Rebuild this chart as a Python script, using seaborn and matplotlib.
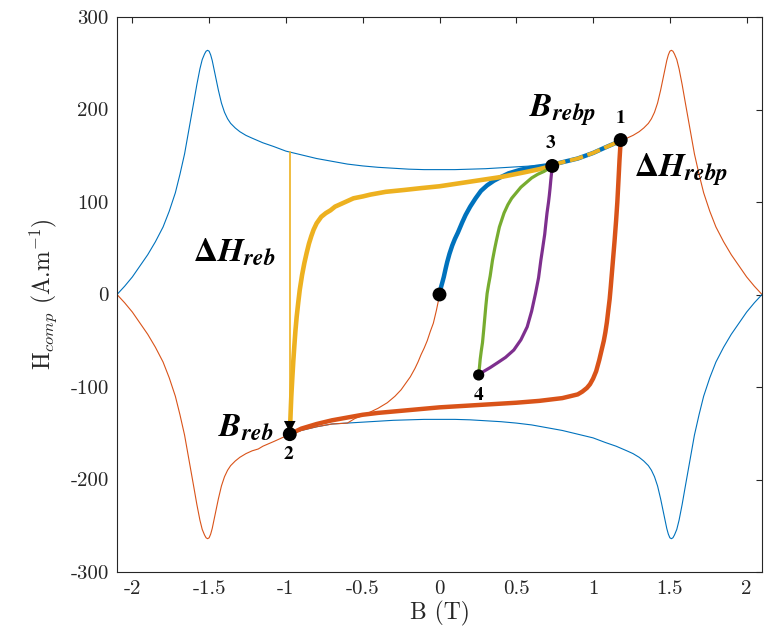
import numpy as np
import matplotlib
matplotlib.use("Agg")
import matplotlib.pyplot as plt
import seaborn as sns

# ---- major hysteresis loop -------------------------------------------------
# descending (upper) branch, B in T, H in A/m
upper_b = [-2.10, -2.05, -2.00, -1.95, -1.90, -1.85, -1.80, -1.76, -1.72, -1.69,
           -1.66, -1.63, -1.60, -1.58, -1.56, -1.545, -1.53, -1.52, -1.51, -1.50,
           -1.49, -1.48, -1.47, -1.455, -1.44, -1.42, -1.40, -1.38, -1.36, -1.33,
           -1.30, -1.26, -1.22, -1.15, -1.08, -1.00, -0.975, -0.90, -0.80, -0.70,
           -0.60, -0.50, -0.40, -0.30, -0.20, -0.10, 0.00, 0.10, 0.20, 0.30,
           0.40, 0.50, 0.60, 0.70, 0.74, 0.80, 0.90, 1.00, 1.08, 1.15,
           1.18, 1.22, 1.26, 1.30, 1.33, 1.36, 1.38, 1.40, 1.42, 1.44,
           1.455, 1.47, 1.48, 1.49, 1.50, 1.51, 1.52, 1.53, 1.545, 1.56,
           1.58, 1.60, 1.63, 1.66, 1.69, 1.72, 1.76, 1.80, 1.85, 1.90,
           1.95, 2.00, 2.05, 2.10]
upper_h = [0, 9, 19, 31, 43, 57, 73, 90, 110, 130,
           152, 180, 208, 227, 244, 254, 260, 263, 264, 263,
           259, 253, 245, 233, 221, 207, 197, 190, 185, 180,
           176, 172, 169, 164, 160, 155, 154, 151, 147, 144,
           141, 139, 137.5, 136.5, 135.5, 135, 135, 135, 135.5, 136,
           137, 138, 139, 140, 140.5, 143, 147, 153, 159, 164,
           167, 169, 172, 176, 180, 185, 190, 197, 207, 221,
           233, 245, 253, 259, 263, 264, 263, 260, 254, 244,
           227, 208, 180, 152, 130, 110, 90, 73, 57, 43,
           31, 19, 9, 0]

# ascending (lower) branch
lower_b = [-2.10, -2.05, -2.00, -1.95, -1.90, -1.85, -1.80, -1.76, -1.72, -1.69,
           -1.66, -1.63, -1.60, -1.58, -1.56, -1.545, -1.53, -1.52, -1.51, -1.50,
           -1.49, -1.48, -1.47, -1.455, -1.44, -1.42, -1.40, -1.38, -1.36, -1.33,
           -1.30, -1.26, -1.22, -1.18, -1.15, -1.08, -1.00, -0.975, -0.90, -0.80,
           -0.70, -0.60, -0.50, -0.40, -0.30, -0.20, -0.10, 0.00, 0.10, 0.20,
           0.30, 0.40, 0.50, 0.60, 0.70, 0.80, 0.90, 1.00, 1.08, 1.15,
           1.22, 1.26, 1.30, 1.33, 1.36, 1.38, 1.40, 1.42, 1.44, 1.455,
           1.47, 1.48, 1.49, 1.50, 1.51, 1.52, 1.53, 1.545, 1.56, 1.58,
           1.60, 1.63, 1.66, 1.69, 1.72, 1.76, 1.80, 1.85, 1.90, 1.95,
           2.00, 2.05, 2.10]
lower_h = [0, -9, -19, -31, -43, -57, -73, -90, -110, -130,
           -152, -180, -208, -227, -244, -254, -260, -263, -264, -263,
           -259, -253, -245, -233, -221, -207, -197, -190, -185, -180,
           -176, -172, -169, -167, -164, -159, -153, -151, -147, -143,
           -140, -139, -138, -137, -136, -135.5, -135, -135, -135, -135.5,
           -136.5, -137.5, -139, -141, -144, -147, -151, -155, -160, -164,
           -169, -172, -176, -180, -185, -190, -197, -207, -221, -233,
           -245, -253, -259, -263, -264, -263, -260, -254, -244, -227,
           -208, -180, -152, -130, -110, -90, -73, -57, -43, -31,
           -19, -9, 0]

# descending curve back to the demagnetised state
return_b = [-0.60, -0.55, -0.50, -0.45, -0.40, -0.34, -0.29, -0.25, -0.22, -0.19,
            -0.16, -0.14, -0.12, -0.10, -0.08, -0.06, -0.04, -0.03, -0.02, -0.01, 0.00]
return_h = [-139, -134, -131, -127, -123, -117, -110, -103, -96, -89,
            -80, -73, -65, -58, -50, -40, -31, -24, -17, -9, 0]

# ---- thick trajectories ----------------------------------------------------
# first magnetisation 0 -> point 1
first_b = [0.00, 0.005, 0.01, 0.02, 0.028, 0.04, 0.05, 0.065, 0.083, 0.10,
           0.12, 0.148, 0.17, 0.20, 0.235, 0.27, 0.31, 0.354, 0.40, 0.45,
           0.53, 0.63, 0.74, 0.80, 0.90, 1.00, 1.08, 1.15, 1.18]
first_h = [0, 4, 8, 14, 19, 28, 35, 44, 53, 60,
           67, 78, 86, 95, 104, 112, 118, 123, 127, 131,
           135, 138, 140.5, 143, 147, 153, 159, 164, 167]

# reversal 1 -> 2
rev12_b = [1.18, 1.172, 1.165, 1.158, 1.15, 1.14, 1.13, 1.12, 1.115, 1.108,
           1.10, 1.09, 1.08, 1.07, 1.06, 1.05, 1.04, 1.03, 1.02, 1.00,
           0.98, 0.96, 0.93, 0.90, 0.85, 0.80, 0.65, 0.50, 0.30, 0.20,
           0.00, -0.20, -0.40, -0.50, -0.60, -0.70, -0.80, -0.90, -0.975]
rev12_h = [167, 145, 122, 100, 80, 58, 38, 18, 8, -5,
           -16, -30, -41, -50, -57, -64, -71, -77, -83, -91,
           -97, -101, -105, -108, -110, -112, -115, -117, -119, -120,
           -122, -125, -128, -130, -133, -136, -140, -145, -151]

# reversal 2 -> 3 -> 1
rev23_b = [-0.975, -0.972, -0.968, -0.965, -0.958, -0.952, -0.945, -0.938, -0.93, -0.92,
           -0.91, -0.895, -0.88, -0.865, -0.85, -0.835, -0.82, -0.80, -0.77, -0.74,
           -0.71, -0.68, -0.64, -0.60, -0.56, -0.50, -0.45, -0.35, -0.23, -0.12,
           0.00, 0.10, 0.20, 0.30, 0.40, 0.55, 0.65, 0.734]
rev23_h = [-151, -139, -122, -110, -89, -72, -55, -39, -24, -9,
           5, 21, 34, 45, 55, 63, 70, 77, 84, 88,
           91, 95, 98, 101, 104, 106, 108, 111, 113, 115,
           117, 119.5, 122, 124.5, 127, 132, 135.5, 139]
rev31_b = [0.734, 0.80, 0.90, 1.00, 1.08, 1.15, 1.18]
rev31_h = [140, 143, 147, 153, 159, 164, 167]

# minor loop 3 -> 4 -> 3
rev34_b = [0.734, 0.73, 0.725, 0.72, 0.715, 0.71, 0.705, 0.70, 0.692, 0.685,
           0.677, 0.67, 0.66, 0.645, 0.625, 0.60, 0.571, 0.53, 0.484, 0.43,
           0.376, 0.33, 0.289, 0.255]
rev34_h = [139, 132, 124, 115, 107, 100, 94, 88, 76, 65,
           56, 48, 37, 18, 1, -18, -35, -49, -60, -68,
           -74, -79, -83, -87]
rev43_b = [0.255, 0.26, 0.265, 0.272, 0.28, 0.288, 0.295, 0.302, 0.31, 0.32,
           0.33, 0.345, 0.36, 0.37, 0.39, 0.42, 0.445, 0.47, 0.50, 0.53,
           0.565, 0.60, 0.64, 0.68, 0.71, 0.734]
rev43_h = [-87, -79, -70, -61, -52, -38, -25, -12, 1, 11,
           20, 37, 50, 58, 73, 88, 97, 104, 110, 116,
           121, 126, 130, 133, 136, 139]

# field step at B_reb
dh_reb_b = [-0.975, -0.975]
dh_reb_h = [154, -140]

# marked states
pts_b = [0.0, 1.18, 0.734, -0.975]
pts_h = [0, 167, 139, -151]
pt4_b = [0.255]
pt4_h = [-87]
arrow_b = [-0.975]
arrow_h = [-143]

x_ticks = [-2, -1.5, -1, -0.5, 0, 0.5, 1, 1.5, 2]
x_tick_labels = ["-2", "-1.5", "-1", "-0.5", "0", "0.5", "1", "1.5", "2"]
y_ticks = [-300, -200, -100, 0, 100, 200, 300]
y_tick_labels = ["-300", "-200", "-100", "0", "100", "200", "300"]

BLUE = "#0072BD"
ORANGE = "#D95319"
YELLOW = "#EDB120"
PURPLE = "#7E2F8E"
GREEN = "#77AC30"
AX_COL = "#262626"

sns.set_style("white")
plt.rcParams.update({
    "font.family": "serif",
    "font.serif": ["cmr10"],
    "mathtext.fontset": "cm",
    "axes.unicode_minus": False,
    "axes.formatter.use_mathtext": True,
})

fig = plt.figure(figsize=(7.78, 6.42), dpi=100)
ax = fig.add_axes([117 / 778, 70 / 642, 645 / 778, 555 / 642])

ub, uh = np.array(upper_b), np.array(upper_h)
lb, lh = np.array(lower_b), np.array(lower_h)


def curve(x, y, color, lw, z, **kw):
    sns.lineplot(x=x, y=y, sort=False, estimator=None, color=color,
                 linewidth=lw, ax=ax, zorder=z, legend=False, **kw)


thin = 0.8
m = ub <= 0.74
curve(ub[m], uh[m], BLUE, thin, 2)
m = ub >= 1.18
curve(ub[m], uh[m], ORANGE, thin, 2)
m = lb >= -0.975
curve(lb[m], lh[m], BLUE, thin, 2)
m = lb <= -0.60
curve(np.concatenate([lb[m], return_b]), np.concatenate([lh[m], return_h]),
      ORANGE, thin, 2)

curve(dh_reb_b, dh_reb_h, YELLOW, 1.2, 3)

curve(first_b, first_h, BLUE, 3.2, 4)
curve(rev12_b, rev12_h, ORANGE, 3.2, 4)
curve(rev23_b, rev23_h, YELLOW, 3.3, 5)
curve(rev31_b, rev31_h, YELLOW, 2.8, 5, dashes=(3.5, 1.2))
curve(rev34_b, rev34_h, PURPLE, 2.3, 6)
curve(rev43_b, rev43_h, GREEN, 2.3, 7)

sns.scatterplot(x=pts_b, y=pts_h, color="black", s=100, edgecolor="none",
                ax=ax, zorder=10, legend=False)
sns.scatterplot(x=pt4_b, y=pt4_h, color="black", s=65, edgecolor="none",
                ax=ax, zorder=10, legend=False)
sns.scatterplot(x=arrow_b, y=arrow_h, color="black", s=70, marker="v",
                edgecolor="none", ax=ax, zorder=11, legend=False)

# annotations
big = dict(fontsize=24, math_fontfamily="stix", color="black", zorder=12)
ax.text(0.80, 199, r"$\mathbfit{B}_{\mathbfit{rebp}}$", ha="center", va="center", **big)
ax.text(1.57, 135, r"$\mathbf{\Delta}\mathbfit{H}_{\mathbfit{rebp}}$", ha="center", va="center", **big)
ax.text(-1.34, 46, r"$\mathbf{\Delta}\mathbfit{H}_{\mathbfit{reb}}$", ha="center", va="center", **big)
ax.text(-1.26, -144, r"$\mathbfit{B}_{\mathbfit{reb}}$", ha="center", va="center", **big)

num = dict(fontsize=14, math_fontfamily="stix", color="black",
           ha="center", va="center", zorder=12)
ax.text(1.18, 191, r"$\mathbf{1}$", **num)
ax.text(-0.98, -173, r"$\mathbf{2}$", **num)
ax.text(0.72, 164, r"$\mathbf{3}$", **num)
ax.text(0.255, -109, r"$\mathbf{4}$", **num)

ax.set_xlim(-2.1, 2.1)
ax.set_ylim(-300, 300)
ax.set_xticks(x_ticks)
ax.set_xticklabels(x_tick_labels)
ax.set_yticks(y_ticks)
ax.set_yticklabels(y_tick_labels)
ax.tick_params(direction="in", length=4, width=0.8, top=True, right=True,
               labelsize=15, colors=AX_COL, pad=6)
for sp in ax.spines.values():
    sp.set_visible(True)
    sp.set_color(AX_COL)
    sp.set_linewidth(0.8)

ax.set_xlabel("B (T)", fontsize=17, color=AX_COL, labelpad=2)
ax.set_ylabel(r"H$_{comp}$ (A.m$^{-1}$)", fontsize=17, color=AX_COL, labelpad=8)

fig.savefig("out.png", dpi=100)
